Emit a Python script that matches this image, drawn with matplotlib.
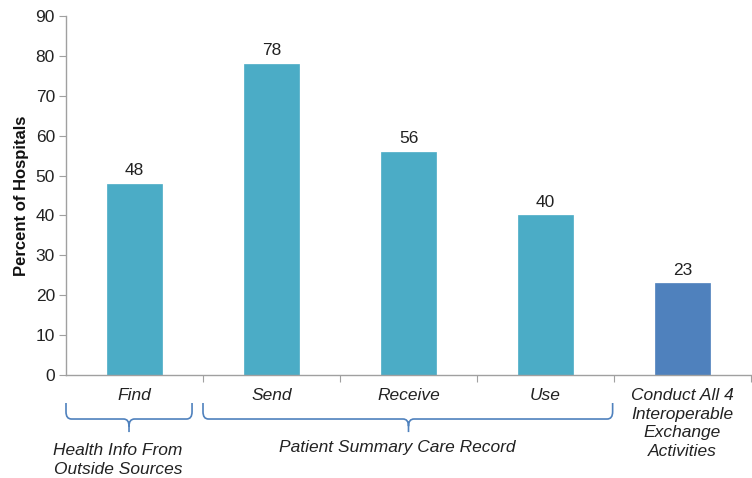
import matplotlib
matplotlib.use("Agg")
import matplotlib.pyplot as plt
from matplotlib.path import Path
from matplotlib.patches import PathPatch
from matplotlib.transforms import blended_transform_factory

categories = ["Find", "Send", "Receive", "Use", "Conduct All 4\nInteroperable\nExchange\nActivities"]
values = [48, 78, 56, 40, 23]
bar_colors = ["#4BACC6", "#4BACC6", "#4BACC6", "#4BACC6", "#4F81BD"]
yticks = [0, 10, 20, 30, 40, 50, 60, 70, 80, 90]
group_labels = ["Health Info From\nOutside Sources", "Patient Summary Care Record"]

plt.rcParams['font.family'] = ['Liberation Sans', 'DejaVu Sans']

FS = 12.5

fig = plt.figure(figsize=(7.52, 4.78), dpi=100)
ax = fig.add_axes([66/752, (478-375)/478, 685/752, 359/478])

x = list(range(len(categories)))
ax.bar(x, values, width=0.4, color=bar_colors, edgecolor=bar_colors, linewidth=0.5, zorder=2)
for xi, v in zip(x, values):
    ax.annotate(str(v), (xi, v), xytext=(0, 4), textcoords='offset points',
                ha='center', va='bottom', fontsize=FS, color='#222222')

ax.set_xlim(-0.5, len(categories) - 0.5)
ax.set_ylim(0, 90)
ax.set_yticks(yticks)
ax.tick_params(axis='y', labelsize=FS, length=5, color='#A0A0A0', labelcolor='#222222', pad=3)
ax.set_ylabel("Percent of Hospitals", fontsize=12, fontweight='bold', color='#111111', labelpad=5)

# category separators as x ticks
ax.set_xticks([i + 0.5 for i in range(len(categories))])
ax.set_xticklabels([])
ax.tick_params(axis='x', length=5, color='#A0A0A0', direction='out')

for s in ['top', 'right']:
    ax.spines[s].set_visible(False)
for s in ['left', 'bottom']:
    ax.spines[s].set_color('#A0A0A0')
    ax.spines[s].set_linewidth(1.0)

trans = blended_transform_factory(ax.transData, ax.transAxes)

# category labels
for xi, c in zip(x, categories):
    if xi < 4:
        ax.text(xi, -0.056, c, transform=trans, ha='center', va='center',
                fontsize=FS, style='italic', color='#222222')
    else:
        ax.text(xi, -0.135, c, transform=trans, ha='center', va='center',
                fontsize=FS, style='italic', color='#222222', linespacing=1.28)

def brace(x0, x1, xm, ytop=-0.078, ymid=-0.1226, ybot=-0.159):
    r = 0.04
    ry = 0.02
    verts = [
        (x0, ytop), (x0, ymid + ry), (x0, ymid), (x0 + r, ymid),
        (xm - r, ymid), (xm, ymid), (xm, ymid - ry), (xm, ybot),
    ]
    codes = [Path.MOVETO, Path.LINETO, Path.CURVE3, Path.CURVE3,
             Path.LINETO, Path.CURVE3, Path.CURVE3, Path.LINETO]
    verts2 = [
        (xm, ymid - ry), (xm, ymid), (xm + r, ymid),
        (x1 - r, ymid), (x1, ymid), (x1, ymid + ry), (x1, ytop),
    ]
    codes2 = [Path.MOVETO, Path.CURVE3, Path.CURVE3,
              Path.LINETO, Path.CURVE3, Path.CURVE3, Path.LINETO]
    p = Path(verts + verts2, codes + codes2)
    patch = PathPatch(p, transform=trans, fill=False, edgecolor='#4F81BD',
                      linewidth=1.2, clip_on=False)
    ax.add_patch(patch)

brace(-0.5, 0.42, -0.04)
brace(0.5, 3.49, 2.0)

ax.text(-0.12, -0.237, group_labels[0], transform=trans, ha='center', va='center',
        fontsize=FS, style='italic', color='#222222', linespacing=1.38)
ax.text(1.92, -0.203, group_labels[1], transform=trans, ha='center', va='center',
        fontsize=FS, style='italic', color='#222222')

fig.savefig("out.png", dpi=100)
